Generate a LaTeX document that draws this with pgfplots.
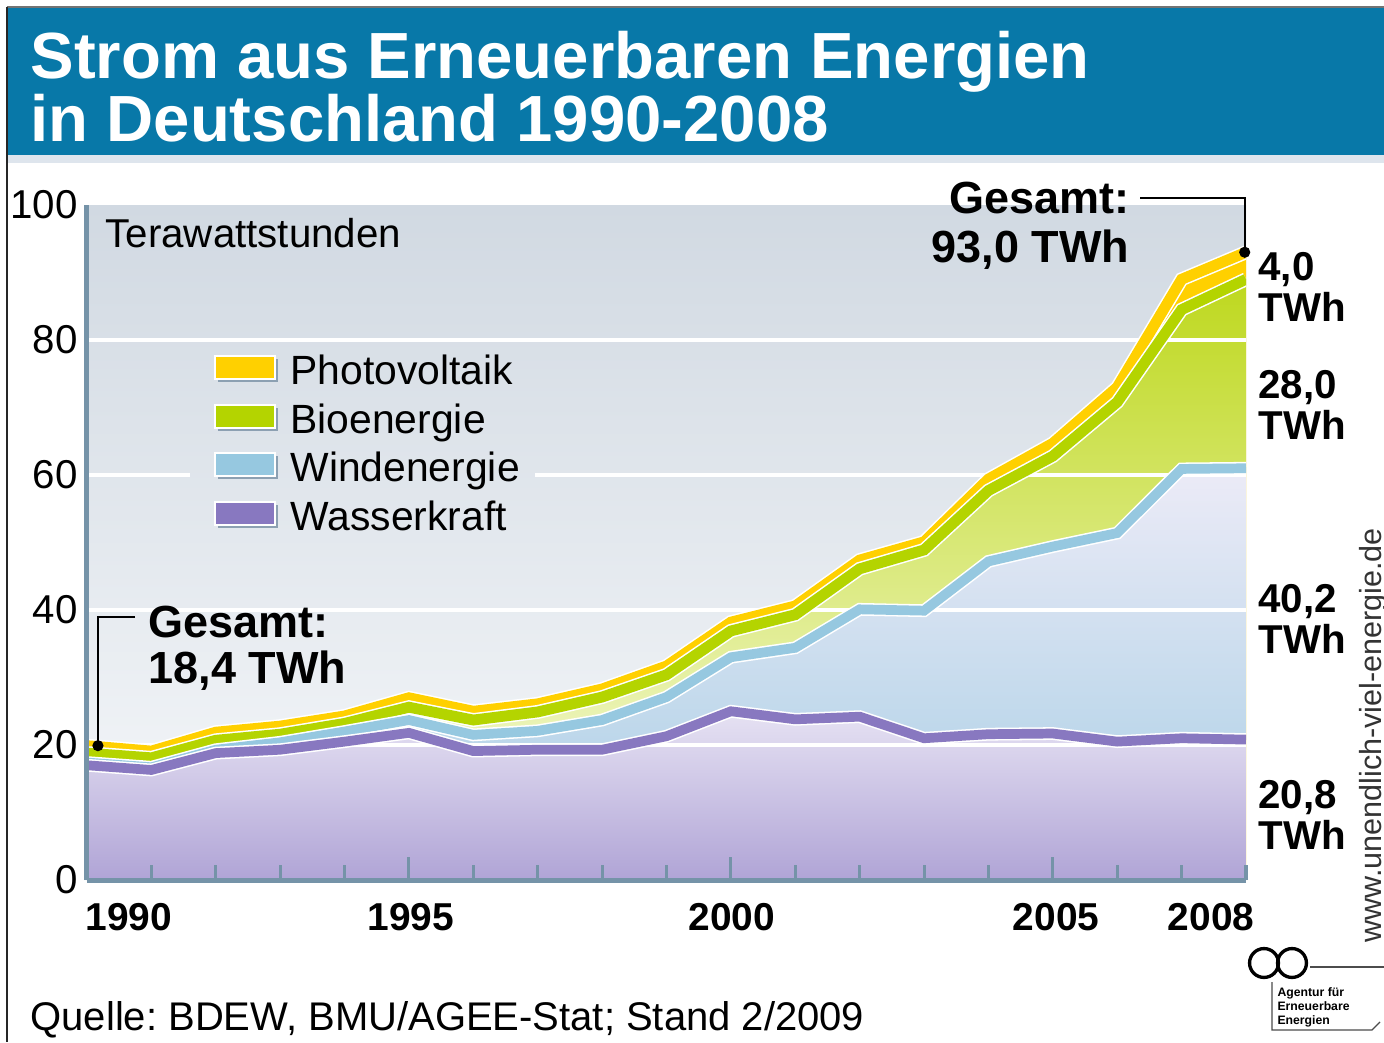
\documentclass[border=0pt]{standalone}
\usepackage{fontspec}
\setmainfont{Liberation Sans}
\usepackage{pgfplots}
\usepackage{pgfplotstable}
\pgfplotsset{compat=1.18}
\frenchspacing

\definecolor{banner}{RGB}{8,120,168}
\definecolor{stripe}{RGB}{222,229,237}
\definecolor{axiscol}{RGB}{117,147,168}
\definecolor{bgT}{RGB}{209,217,226}
\definecolor{bgB}{RGB}{246,248,250}
\definecolor{pvcol}{RGB}{255,208,0}
\definecolor{biocol}{RGB}{180,212,0}
\definecolor{windcol}{RGB}{150,200,224}
\definecolor{hydcol}{RGB}{136,120,192}
\definecolor{bioT}{RGB}{190,216,30}
\definecolor{bioB}{RGB}{250,252,232}
\definecolor{windT}{RGB}{236,235,247}
\definecolor{windB}{RGB}{165,205,228}
\definecolor{hydT}{RGB}{230,226,243}
\definecolor{hydB}{RGB}{176,164,214}
\definecolor{shadowcol}{RGB}{140,160,178}

% Stromerzeugung in TWh
\pgfplotstableread{
year hydro wind bio pv
1990 17.0 0.4 1.4 1.1
1991 16.3 0.4 1.4 1.0
1992 18.8 0.5 1.4 1.2
1993 19.3 1.1 1.2 1.2
1994 20.5 1.5 1.2 1.1
1995 21.8 1.9 1.9 1.4
1996 19.1 2.4 2.2 1.3
1997 19.3 2.8 2.8 1.2
1998 19.3 4.4 3.4 1.2
1999 21.3 5.8 3.3 1.3
2000 25.0 8.0 3.9 1.3
2001 23.8 10.6 4.9 1.3
2002 24.2 15.9 6.0 1.3
2003 21.0 18.9 9.0 1.2
2004 21.6 25.6 10.5 1.7
2005 21.7 27.7 13.4 1.9
2006 20.5 30.9 19.4 2.2
2007 21.0 39.9 23.6 4.5
2008 20.8 40.2 28.0 4.0
}\data
\pgfplotstablecreatecol[expr={\thisrow{hydro}+\thisrow{wind}}]{cwind}\data
\pgfplotstablecreatecol[expr={\thisrow{cwind}+\thisrow{bio}}]{cbio}\data
\pgfplotstablecreatecol[expr={\thisrow{cbio}+\thisrow{pv}}]{cpv}\data

\begin{document}
\begin{tikzpicture}
\fill[white] (0pt,0pt) rectangle (498.24pt,-375.12pt);
\path[use as bounding box] (0pt,0pt) rectangle (498.24pt,-375.12pt);

\begin{scope}[x=0.36pt,y=-0.36pt]
  % banner
  \fill[banner] (8,8) rectangle (1384,155);
  \fill[stripe] (8,155) rectangle (1384,163);
  \draw[black!55, line width=0.5pt] (7,7) -- (1384,7);
  \draw[black!85, line width=0.7pt] (7,7) -- (7,1042);
  \node[anchor=base west, inner sep=0pt, text=white, font=\fontsize{23.5}{28}\selectfont\bfseries] at (30,78) {Strom aus Erneuerbaren Energien};
  \node[anchor=base west, inner sep=0pt, text=white, font=\fontsize{23.5}{28}\selectfont\bfseries] at (30,141) {in Deutschland 1990-2008};
\end{scope}

\begin{axis}[
  at={(31.32pt,-316.8pt)}, anchor=south west,
  scale only axis, width=417.24pt, height=243pt,
  xmin=1990, xmax=2008, ymin=0, ymax=100,
  axis on top, no marks,
  axis x line*=bottom, axis y line*=left,
  axis line style={-, draw=axiscol, line width=1.8pt},
  xtick={1990,1995,2000,2005}, xticklabels={},
  minor xtick={1991,1992,1993,1994,1996,1997,1998,1999,2001,2002,2003,2004,2006,2007,2008},
  tick align=inside,
  major tick length=8.3pt, minor tick length=5.4pt,
  tick style={draw=axiscol, line width=1.1pt},
  ytick={0,20,40,60,80,100},
  ytick style={draw=none},
  yticklabel style={font=\fontsize{14.5}{17}\selectfont, inner sep=0pt, xshift=-3.2pt},
  /pgf/number format/assume math mode=true,
  axis background/.style={top color=bgT, bottom color=bgB},
]
% Flaechen
\addplot[draw=none, fill=pvcol] table[x=year,y=cpv]{\data} \closedcycle;
\addplot[draw=none, top color=bioT, bottom color=bioB] table[x=year,y=cbio]{\data} \closedcycle;
\addplot[draw=none, top color=windT, bottom color=windB] table[x=year,y=cwind]{\data} \closedcycle;
\addplot[draw=none, top color=hydT, bottom color=hydB] table[x=year,y=hydro]{\data} \closedcycle;
% Gitterlinien
\draw[white, line width=1.6pt] (axis cs:1990,20) -- (axis cs:2008,20);
\draw[white, line width=1.6pt] (axis cs:1990,40) -- (axis cs:2008,40);
\draw[white, line width=1.6pt] (axis cs:1990,60) -- (axis cs:1991.6,60);
\draw[white, line width=1.6pt] (axis cs:1996.96,60) -- (axis cs:2008,60);
\draw[white, line width=1.6pt] (axis cs:1990,80) -- (axis cs:2008,80);
% Linien
\addplot[white, line width=5.0pt] table[x=year,y=cpv]{\data};
\addplot[pvcol, line width=3.9pt] table[x=year,y=cpv]{\data};
\addplot[white, line width=5.0pt] table[x=year,y=cbio]{\data};
\addplot[biocol, line width=3.9pt] table[x=year,y=cbio]{\data};
\addplot[white, line width=4.6pt] table[x=year,y=cwind]{\data};
\addplot[windcol, line width=3.5pt] table[x=year,y=cwind]{\data};
\addplot[white, line width=4.6pt] table[x=year,y=hydro]{\data};
\addplot[hydcol, line width=3.5pt] table[x=year,y=hydro]{\data};
% Gesamt-Punkte
\addplot[only marks, mark=*, mark size=1.8pt, black] coordinates {(1990.17,19.9)};
\addplot[only marks, mark=*, mark size=1.8pt, black] coordinates {(2007.98,93.0)};
\end{axis}

\begin{scope}[x=0.36pt,y=-0.36pt]
  % x labels
  \node[anchor=base west, inner sep=0pt, font=\fontsize{14}{17}\selectfont\bfseries] at (85,930) {1990};
  \node[anchor=base, inner sep=0pt, font=\fontsize{14}{17}\selectfont\bfseries] at (411,930) {1995};
  \node[anchor=base, inner sep=0pt, font=\fontsize{14}{17}\selectfont\bfseries] at (732,930) {2000};
  \node[anchor=base, inner sep=0pt, font=\fontsize{14}{17}\selectfont\bfseries] at (1056,930) {2005};
  \node[anchor=base east, inner sep=0pt, font=\fontsize{14}{17}\selectfont\bfseries] at (1255,930) {2008};
  % unit
  \node[anchor=base west, inner sep=0pt, font=\fontsize{14.5}{17}\selectfont] at (105,247) {Terawattstunden};
  % legend
  \foreach \yy/\cc/\lab in {356/pvcol/Photovoltaik, 405/biocol/Bioenergie, 453/windcol/Windenergie, 502/hydcol/Wasserkraft} {
    \fill[shadowcol] (218,\yy+3) rectangle (278,\yy+26);
    \fill[white] (214,\yy-1) rectangle (276,\yy+24);
    \fill[\cc] (216,\yy+1) rectangle (274,\yy+22);
    \node[anchor=base west, inner sep=0pt, font=\fontsize{14.7}{17}\selectfont] at (290,\yy+28) {\lab};
  }
  % callout 1990
  \draw[black, line width=0.7pt] (135,617) -- (98,617) -- (98,742);
  \node[anchor=base west, inner sep=0pt, font=\fontsize{16.2}{19}\selectfont\bfseries] at (148,637) {Gesamt:};
  \node[anchor=base west, inner sep=0pt, font=\fontsize{16.2}{19}\selectfont\bfseries] at (148,683) {18,4 TWh};
  % callout 2008
  \draw[black, line width=0.7pt] (1140,198) -- (1245,198) -- (1245,249);
  \node[anchor=base east, inner sep=0pt, font=\fontsize{16.2}{19}\selectfont\bfseries] at (1130,213) {Gesamt:};
  \node[anchor=base east, inner sep=0pt, font=\fontsize{16.2}{19}\selectfont\bfseries] at (1130,262) {93,0 TWh};
  % right labels
  \foreach \yy/\val in {280/{4,0}, 398/{28,0}, 612/{40,2}, 808/{20,8}} {
    \node[anchor=base west, inner sep=0pt, font=\fontsize{14.5}{17}\selectfont\bfseries] at (1258,\yy) {\val};
    \node[anchor=base west, inner sep=0pt, font=\fontsize{14.5}{17}\selectfont\bfseries] at (1258,\yy+41) {TWh};
  }
  % URL
  \node[rotate=90, anchor=base west, inner sep=0pt, text=black!80, font=\fontsize{11}{13}\selectfont] at (1381,943) {www.unendlich-viel-energie.de};
  % logo
  \draw[black, line width=1.2pt] (1264,963) circle (5.2pt);
  \draw[black, line width=1.2pt] (1292,963) circle (5.2pt);
  \draw[black!70, line width=0.4pt] (1310,967) -- (1384,967);
  \draw[black!70, line width=0.4pt] (1272,982) -- (1272,1030) -- (1372,1030) -- (1380,1022);
  \node[anchor=base west, inner sep=0pt, font=\fontsize{4.4}{5}\selectfont\bfseries] at (1277,996) {Agentur für};
  \node[anchor=base west, inner sep=0pt, font=\fontsize{4.4}{5}\selectfont\bfseries] at (1277,1010) {Erneuerbare};
  \node[anchor=base west, inner sep=0pt, font=\fontsize{4.4}{5}\selectfont\bfseries] at (1277,1024) {Energien};
  % source
  \node[anchor=base west, inner sep=0pt, font=\fontsize{14.4}{17}\selectfont] at (30,1030) {Quelle: BDEW, BMU/AGEE-Stat; Stand 2/2009};
\end{scope}
\end{tikzpicture}
\end{document}
